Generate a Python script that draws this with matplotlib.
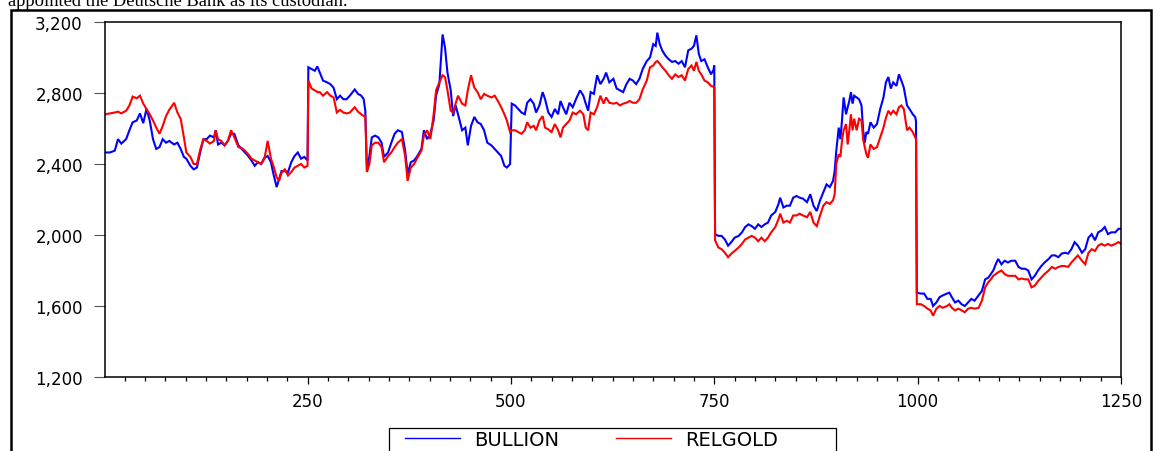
import matplotlib
matplotlib.use("Agg")
import matplotlib.pyplot as plt
from matplotlib.ticker import FuncFormatter, MultipleLocator, FixedLocator
from matplotlib.lines import Line2D
from matplotlib.patches import Rectangle

# Trading-day index shared by both price series
day = [
    1, 7, 13, 17, 21, 27, 31, 35, 40, 44, 48, 52, 56, 60, 64, 68, 72, 76, 80, 86,
    90, 94, 98, 101, 106, 110, 114, 118, 122, 126, 130, 135, 137, 140, 144, 148, 152, 156, 160, 165,
    169, 173, 177, 181, 185, 189, 193, 197, 201, 205, 208, 212, 215, 218, 222, 226, 230, 234, 238, 242,
    246, 250, 251,
    255, 259, 262, 265, 269, 274, 278, 282, 286, 290, 294, 298, 302, 308, 312, 316, 319, 321, 323, 326,
    329, 333, 337, 341, 344, 349, 353, 357, 361, 366, 370, 373, 377, 381, 385, 390, 393, 397, 401, 405,
    408, 412, 416, 419, 422, 426, 429, 432, 435, 440, 444, 447, 451, 455, 459, 463, 467, 471, 476, 480,
    484, 488, 492, 495, 499,
    501, 505, 509, 513, 517, 520, 524, 528, 531, 535, 539, 542, 546, 550, 554, 558, 561, 564, 568, 572,
    576, 580, 585, 589, 592, 595, 598, 602, 606, 610, 614, 617, 621, 626, 630, 634, 638, 642, 646, 650,
    654, 658, 662, 667, 671, 675, 678, 680, 683, 686, 690, 694, 698, 702, 706, 710, 714, 718, 722, 725,
    728, 731, 734, 738, 742, 746, 749, 750,
    751, 755, 759, 763, 767, 771, 775, 780, 784, 788, 792, 796, 800, 804, 808, 812, 816, 820, 825, 829,
    831, 835, 839, 843, 847, 851, 855, 859, 864, 868, 872, 876, 880, 884, 888, 892, 896, 898, 900, 903,
    905, 907, 909, 912, 914, 916, 918, 920, 922, 925, 928, 931, 933, 935, 937, 939, 942, 946, 950, 954,
    958, 961, 964, 967, 970, 974, 977, 980, 983, 987, 990, 994, 997, 998,
    999, 1004, 1008, 1012, 1016, 1019, 1023, 1027, 1031, 1036, 1039, 1042, 1046, 1050, 1054, 1058, 1062, 1066, 1070, 1075,
    1079, 1083, 1087, 1090, 1093, 1096, 1099, 1103, 1107, 1111, 1115, 1120, 1124, 1128, 1132, 1136, 1140, 1144, 1148, 1152,
    1156, 1161, 1165, 1169, 1173, 1177, 1181, 1185, 1189, 1193, 1197, 1202, 1206, 1210, 1214, 1218, 1222, 1226, 1230, 1234,
    1238, 1243, 1247, 1250,
]

bullion = [
    2465, 2465, 2475, 2540, 2515, 2540, 2590, 2635, 2645, 2685, 2630, 2710, 2645, 2540, 2485, 2495, 2540, 2520, 2530, 2510,
    2520, 2485, 2440, 2430, 2390, 2370, 2380, 2465, 2540, 2540, 2560, 2550, 2590, 2510, 2520, 2505, 2530, 2570, 2570, 2505,
    2485, 2465, 2445, 2420, 2390, 2410, 2400, 2435, 2445, 2410, 2345, 2270, 2315, 2360, 2360, 2355, 2410, 2445, 2465, 2430,
    2440, 2420, 2945,
    2935, 2925, 2950, 2915, 2870, 2860, 2850, 2830, 2765, 2785, 2765, 2765, 2785, 2820, 2795, 2785, 2765, 2700, 2360, 2445,
    2550, 2560, 2550, 2520, 2440, 2465, 2520, 2570, 2590, 2580, 2475, 2345, 2410, 2420, 2445, 2485, 2590, 2540, 2570, 2645,
    2785, 2850, 3130, 3055, 2915, 2815, 2670, 2730, 2680, 2590, 2605, 2505, 2615, 2665, 2635, 2625, 2590, 2520, 2505, 2485,
    2465, 2445, 2390, 2380, 2400,
    2740, 2730, 2710, 2690, 2680, 2745, 2765, 2740, 2690, 2730, 2805, 2765, 2690, 2665, 2710, 2680, 2755, 2720, 2680, 2745,
    2720, 2765, 2815, 2785, 2740, 2700, 2805, 2795, 2900, 2850, 2880, 2915, 2860, 2880, 2825, 2815, 2805, 2850, 2880, 2870,
    2850, 2880, 2935, 2980, 3000, 3075, 3065, 3140, 3075, 3040, 3010, 2990, 2975, 2980, 2965, 2980, 2945, 3040, 3050, 3065,
    3125, 3020, 2980, 2990, 2945, 2905, 2930, 2955,
    2005, 1995, 1995, 1975, 1940, 1960, 1985, 1995, 2015, 2045, 2060, 2050, 2035, 2060, 2045, 2060, 2070, 2110, 2130, 2175,
    2210, 2155, 2165, 2165, 2210, 2220, 2210, 2205, 2185, 2230, 2165, 2135, 2195, 2240, 2285, 2270, 2305, 2360, 2475, 2605,
    2540, 2645, 2775, 2680, 2720, 2755, 2805, 2740, 2785, 2775, 2765, 2730, 2590, 2520, 2580, 2570, 2635, 2605, 2625, 2710,
    2775, 2860, 2890, 2825, 2860, 2840, 2905, 2870, 2830, 2730, 2710, 2680, 2665, 2640,
    1675, 1670, 1670, 1640, 1640, 1600, 1620, 1650, 1660, 1670, 1675, 1650, 1620, 1630, 1610, 1600, 1620, 1640, 1630, 1660,
    1685, 1750, 1760, 1780, 1800, 1835, 1865, 1835, 1855, 1845, 1855, 1855, 1820, 1810, 1810, 1800, 1750, 1770, 1800, 1825,
    1845, 1865, 1885, 1885, 1875, 1895, 1900, 1895, 1920, 1960, 1940, 1900, 1920, 1985, 2005, 1970, 2015, 2025, 2045, 2005,
    2015, 2015, 2035, 2035,
]

relgold = [
    2680, 2685, 2690, 2695, 2685, 2700, 2730, 2780, 2770, 2785, 2740, 2710, 2680, 2645, 2605, 2570, 2615, 2670, 2705, 2745,
    2690, 2655, 2550, 2465, 2440, 2400, 2400, 2480, 2540, 2530, 2515, 2530, 2590, 2540, 2530, 2505, 2530, 2590, 2550, 2495,
    2490, 2475, 2455, 2430, 2420, 2410, 2400, 2430, 2530, 2430, 2390, 2325, 2305, 2350, 2370, 2335, 2355, 2380, 2390, 2400,
    2380, 2390, 2870,
    2825, 2815, 2805, 2805, 2785, 2805, 2785, 2775, 2690, 2705, 2690, 2685, 2690, 2720, 2695, 2680, 2670, 2670, 2355, 2400,
    2505, 2520, 2520, 2495, 2410, 2445, 2465, 2495, 2520, 2540, 2445, 2305, 2380, 2400, 2435, 2475, 2560, 2590, 2540, 2680,
    2815, 2860, 2900, 2890, 2815, 2700, 2690, 2740, 2785, 2740, 2730, 2815, 2900, 2830, 2805, 2765, 2795, 2785, 2775, 2785,
    2755, 2720, 2680, 2645, 2580,
    2590, 2590, 2580, 2570, 2590, 2635, 2605, 2615, 2590, 2645, 2670, 2605, 2595, 2580, 2625, 2590, 2550, 2605, 2625, 2645,
    2690, 2680, 2700, 2680, 2605, 2590, 2690, 2680, 2720, 2785, 2740, 2775, 2745, 2740, 2745, 2730, 2740, 2745, 2755, 2745,
    2745, 2765, 2820, 2870, 2945, 2955, 2975, 2980, 2965, 2945, 2925, 2900, 2880, 2905, 2890, 2900, 2870, 2935, 2955, 2925,
    2975, 2925, 2905, 2870, 2860, 2840, 2835, 2830,
    1970, 1930, 1920, 1900, 1875, 1895, 1910, 1930, 1950, 1975, 1985, 1995, 1985, 1965, 1985, 1965, 1985, 2015, 2045, 2090,
    2120, 2070, 2080, 2070, 2110, 2110, 2120, 2110, 2100, 2130, 2070, 2050, 2110, 2165, 2185, 2175, 2195, 2230, 2400, 2455,
    2440, 2530, 2590, 2625, 2510, 2590, 2680, 2590, 2655, 2590, 2655, 2645, 2540, 2495, 2455, 2435, 2510, 2485, 2495, 2550,
    2605, 2660, 2700, 2680, 2700, 2680, 2720, 2730, 2710, 2590, 2605, 2580, 2550, 2540,
    1610, 1610, 1600, 1585, 1575, 1545, 1585, 1600, 1590, 1600, 1610, 1590, 1575, 1585, 1575, 1565, 1585, 1590, 1585, 1590,
    1630, 1705, 1735, 1750, 1770, 1780, 1790, 1800, 1780, 1770, 1770, 1770, 1750, 1755, 1750, 1750, 1705, 1715, 1740, 1760,
    1780, 1800, 1820, 1810, 1820, 1825, 1825, 1820, 1845, 1865, 1885, 1855, 1835, 1900, 1920, 1910, 1940, 1950, 1940, 1950,
    1940, 1950, 1960, 1950,
]

series_names = ["BULLION", "RELGOLD"]
series_colors = ["#0000ff", "#ff0000"]
y_ticks = [1200, 1600, 2000, 2400, 2800, 3200]
x_ticks = [250, 500, 750, 1000, 1250]
caption = "appointed the Deutsche Bank as its custodian."

assert len(day) == len(bullion) == len(relgold)

W, H = 1153, 452
fig = plt.figure(figsize=(W / 100, H / 100), dpi=100)
fig.patch.set_facecolor("white")

ax = fig.add_axes([105 / W, 74 / H, 1016 / W, 355 / H])
for values, name, color in zip([bullion, relgold], series_names, series_colors):
    ax.plot(day, values, color=color, lw=1.5, label=name, solid_joinstyle="miter")

ax.set_xlim(1, 1250)
ax.set_ylim(1200, 3200)

ax.yaxis.set_major_locator(FixedLocator(y_ticks))
ax.yaxis.set_major_formatter(FuncFormatter(lambda v, _: f"{int(v):,}"))
ax.xaxis.set_major_locator(FixedLocator(x_ticks))
ax.xaxis.set_minor_locator(MultipleLocator(25))

for side in ["left", "bottom", "top", "right"]:
    ax.spines[side].set_linewidth(1.1)
    ax.spines[side].set_color("black")

ax.tick_params(axis="y", which="major", direction="out", length=8, width=0.8,
               color="#555555", pad=8, labelsize=12, labelcolor="black")
ax.tick_params(axis="x", which="major", direction="out", length=5, width=0.9,
               color="black", pad=6, labelsize=12, labelcolor="black")
ax.tick_params(axis="x", which="minor", direction="out", length=3, width=0.9, color="black")
ax.tick_params(top=False, right=False)

# Legend entries, with their own box that runs off the bottom edge
handles = [Line2D([], [], color=c, lw=1.0) for c in series_colors]
leg = fig.legend(handles, series_names, loc="upper left",
                 bbox_to_anchor=(405 / W, 1 - 431 / H), ncol=2,
                 frameon=False, fontsize=14, handlelength=2.85,
                 handletextpad=0.72, columnspacing=2.9,
                 borderpad=0, borderaxespad=0)
fig.add_artist(Rectangle((389 / W, -0.1), 447 / W, 1.1 - 429 / H,
                         transform=fig.transFigure, fill=False,
                         lw=0.9, edgecolor="black"))

# Outer border around the graphic
fig.add_artist(Rectangle((11 / W, -0.2), (1151 - 11) / W, 1.2 - 11 / H,
                         transform=fig.transFigure, fill=False,
                         lw=1.8, edgecolor="black"))

fig.text(8 / W, 1 - 6.5 / H, caption, family="Liberation Serif", fontsize=13.3,
         ha="left", va="baseline", color="black")

fig.savefig("out.png", dpi=100)
